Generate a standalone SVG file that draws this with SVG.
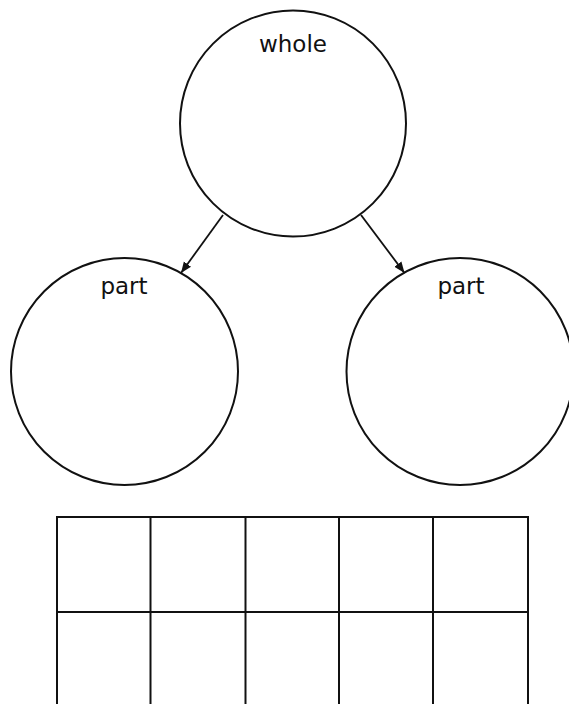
<svg xmlns="http://www.w3.org/2000/svg" width="569" height="704" viewBox="0 0 569 704">
<style>
.c{fill:none;stroke:#111;stroke-width:2}
.t{font-family:"DejaVu Sans",sans-serif;font-size:23px;fill:#111;text-anchor:middle}
.g{fill:none;stroke:#111;stroke-width:2}
.e{stroke:#111;stroke-width:1.8;fill:none}
</style>
<defs>
<marker id="ah" viewBox="0 0 10 10" refX="10" refY="5" markerWidth="11" markerHeight="11" markerUnits="userSpaceOnUse" orient="auto">
<path d="M0,1 L10,5 L0,9 z" fill="#111"/>
</marker>
</defs>
<rect width="569" height="704" fill="#fff"/>
<g id="whole">
<circle class="c" cx="293" cy="123.5" r="113"/>
<text class="t" x="293" y="52">whole</text>
</g>
<g id="part-left">
<circle class="c" cx="124.5" cy="371.5" r="113.5"/>
<text class="t" x="124" y="294">part</text>
</g>
<g id="part-right">
<circle class="c" cx="460" cy="371.5" r="113.5"/>
<text class="t" x="461" y="294">part</text>
</g>
<g id="connectors">
<line class="e" x1="223" y1="215" x2="181" y2="273" marker-end="url(#ah)"/>
<line class="e" x1="361" y1="215" x2="404.5" y2="273" marker-end="url(#ah)"/>
</g>
<g id="grid">
<rect class="g" x="57" y="517" width="471" height="190"/>
<line class="g" x1="57" y1="612" x2="528" y2="612"/>
<line class="g" x1="150.5" y1="517" x2="150.5" y2="707"/>
<line class="g" x1="245.5" y1="517" x2="245.5" y2="707"/>
<line class="g" x1="339" y1="517" x2="339" y2="707"/>
<line class="g" x1="433" y1="517" x2="433" y2="707"/>
</g>
</svg>
